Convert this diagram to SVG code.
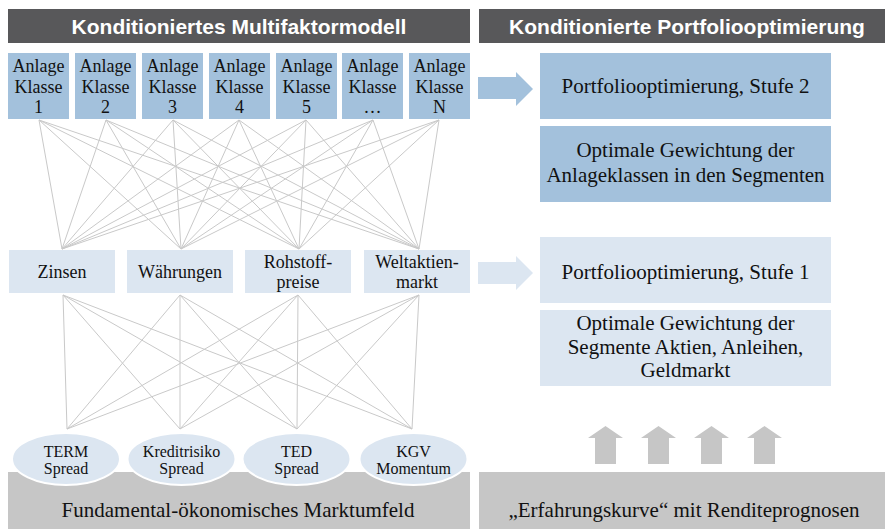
<svg xmlns="http://www.w3.org/2000/svg" width="885" height="529" viewBox="0 0 885 529">
<style>
.hdr{fill:#58585a}
.hdrt{font-family:'Liberation Sans',Arial,sans-serif;font-weight:bold;font-size:21px;fill:#fff;text-anchor:middle}
.dark{fill:#a3c1dc}
.light{fill:#dce6f1}
.gray{fill:#c6c6c6}
.t{font-family:'Liberation Serif','DejaVu Serif',serif;fill:#111;text-anchor:middle}
.t18{font-size:18px}
.t16{font-size:16px}
.t21{font-size:21px}
.conn line{stroke:#c9c9c9;stroke-width:1}
.ell{fill:#dce6f1;stroke:#fff;stroke-width:2}
</style>
<rect width="885" height="529" fill="#fff"/>
<g id="header-left"><rect class="hdr" x="8" y="9" width="462" height="34"/><text class="hdrt" x="239" y="33.5">Konditioniertes Multifaktormodell</text></g>
<g id="header-right"><rect class="hdr" x="479" y="9" width="406" height="34"/><text class="hdrt" x="687" y="33.5">Konditionierte Portfoliooptimierung</text></g>

<g id="base-left"><rect class="gray" x="8" y="472" width="462" height="57"/><text class="t t21" x="238" y="517">Fundamental-ökonomisches Marktumfeld</text></g>
<g id="base-right"><rect class="gray" x="479" y="472" width="406" height="57"/><text class="t t21" x="684" y="517">„Erfahrungskurve“ mit Renditeprognosen</text></g>

<g class="conn" id="connectors">
<g id="upper-lines">
<line x1="39" y1="120" x2="62" y2="249"/><line x1="39" y1="120" x2="181" y2="249"/><line x1="39" y1="120" x2="299" y2="249"/><line x1="39" y1="120" x2="419" y2="249"/>
<line x1="106" y1="120" x2="62" y2="249"/><line x1="106" y1="120" x2="181" y2="249"/><line x1="106" y1="120" x2="299" y2="249"/><line x1="106" y1="120" x2="419" y2="249"/>
<line x1="173" y1="120" x2="62" y2="249"/><line x1="173" y1="120" x2="181" y2="249"/><line x1="173" y1="120" x2="299" y2="249"/><line x1="173" y1="120" x2="419" y2="249"/>
<line x1="239" y1="120" x2="62" y2="249"/><line x1="239" y1="120" x2="181" y2="249"/><line x1="239" y1="120" x2="299" y2="249"/><line x1="239" y1="120" x2="419" y2="249"/>
<line x1="306" y1="120" x2="62" y2="249"/><line x1="306" y1="120" x2="181" y2="249"/><line x1="306" y1="120" x2="299" y2="249"/><line x1="306" y1="120" x2="419" y2="249"/>
<line x1="373" y1="120" x2="62" y2="249"/><line x1="373" y1="120" x2="181" y2="249"/><line x1="373" y1="120" x2="299" y2="249"/><line x1="373" y1="120" x2="419" y2="249"/>
<line x1="439" y1="120" x2="62" y2="249"/><line x1="439" y1="120" x2="181" y2="249"/><line x1="439" y1="120" x2="299" y2="249"/><line x1="439" y1="120" x2="419" y2="249"/>
</g>
<g id="lower-lines">
<line x1="63" y1="295" x2="67" y2="429"/><line x1="63" y1="295" x2="180" y2="429"/><line x1="63" y1="295" x2="297" y2="429"/><line x1="63" y1="295" x2="412" y2="429"/>
<line x1="180" y1="295" x2="67" y2="429"/><line x1="180" y1="295" x2="180" y2="429"/><line x1="180" y1="295" x2="297" y2="429"/><line x1="180" y1="295" x2="412" y2="429"/>
<line x1="298" y1="295" x2="67" y2="429"/><line x1="298" y1="295" x2="180" y2="429"/><line x1="298" y1="295" x2="297" y2="429"/><line x1="298" y1="295" x2="412" y2="429"/>
<line x1="419" y1="295" x2="67" y2="429"/><line x1="419" y1="295" x2="180" y2="429"/><line x1="419" y1="295" x2="297" y2="429"/><line x1="419" y1="295" x2="412" y2="429"/>
</g>
<g id="arrows">
<polygon class="dark" points="478,77 516,77 516,72 533,89 516,106 516,99 478,99"/>
<polygon class="light" points="478,262 516,262 516,256 533,273 516,290 516,284 478,284"/>
<polygon class="gray" points="595,464 595,438 588,438 605.5,426 623,438 616,438 616,464"/>
<polygon class="gray" points="648,464 648,438 641,438 658.5,426 676,438 669,438 669,464"/>
<polygon class="gray" points="701,464 701,438 694,438 711.5,426 729,438 722,438 722,464"/>
<polygon class="gray" points="754,464 754,438 747,438 764.5,426 782,438 775,438 775,464"/>
</g>
</g>

<g id="ak1"><rect class="dark" x="8" y="53" width="61" height="66"/><text class="t t18" x="38.5" y="72">Anlage<tspan x="38.5" dy="20.5">Klasse</tspan><tspan x="38.5" dy="20.5">1</tspan></text></g>
<g id="ak2"><rect class="dark" x="75" y="53" width="61" height="66"/><text class="t t18" x="105.5" y="72">Anlage<tspan x="105.5" dy="20.5">Klasse</tspan><tspan x="105.5" dy="20.5">2</tspan></text></g>
<g id="ak3"><rect class="dark" x="142" y="53" width="61" height="66"/><text class="t t18" x="172.5" y="72">Anlage<tspan x="172.5" dy="20.5">Klasse</tspan><tspan x="172.5" dy="20.5">3</tspan></text></g>
<g id="ak4"><rect class="dark" x="209" y="53" width="61" height="66"/><text class="t t18" x="239.5" y="72">Anlage<tspan x="239.5" dy="20.5">Klasse</tspan><tspan x="239.5" dy="20.5">4</tspan></text></g>
<g id="ak5"><rect class="dark" x="276" y="53" width="61" height="66"/><text class="t t18" x="306.5" y="72">Anlage<tspan x="306.5" dy="20.5">Klasse</tspan><tspan x="306.5" dy="20.5">5</tspan></text></g>
<g id="ak6"><rect class="dark" x="342" y="53" width="61" height="66"/><text class="t t18" x="372.5" y="72">Anlage<tspan x="372.5" dy="20.5">Klasse</tspan><tspan x="372.5" dy="20.5">…</tspan></text></g>
<g id="ak7"><rect class="dark" x="409" y="53" width="61" height="66"/><text class="t t18" x="439.5" y="72">Anlage<tspan x="439.5" dy="20.5">Klasse</tspan><tspan x="439.5" dy="20.5">N</tspan></text></g>

<g id="f-zinsen"><rect class="light" x="9" y="250" width="106" height="43"/><text class="t t18" x="62" y="278">Zinsen</text></g>
<g id="f-waehrungen"><rect class="light" x="127" y="250" width="106" height="43"/><text class="t t18" x="180" y="278">Währungen</text></g>
<g id="f-rohstoff"><rect class="light" x="245" y="250" width="106" height="43"/><text class="t t18" x="298" y="268">Rohstoff-<tspan x="298" dy="20">preise</tspan></text></g>
<g id="f-weltaktien"><rect class="light" x="364" y="250" width="106" height="43"/><text class="t t18" x="417" y="268">Weltaktien-<tspan x="417" dy="20">markt</tspan></text></g>

<g id="e-term"><ellipse class="ell" cx="66" cy="459" rx="54" ry="26"/><text class="t t16" x="66" y="457">TERM<tspan x="66" dy="17">Spread</tspan></text></g>
<g id="e-kredit"><ellipse class="ell" cx="181.5" cy="459" rx="54" ry="26"/><text class="t t16" x="181.5" y="457">Kreditrisiko<tspan x="181.5" dy="17">Spread</tspan></text></g>
<g id="e-ted"><ellipse class="ell" cx="296.5" cy="459" rx="54" ry="26"/><text class="t t16" x="296.5" y="457">TED<tspan x="296.5" dy="17">Spread</tspan></text></g>
<g id="e-kgv"><ellipse class="ell" cx="413.5" cy="459" rx="54" ry="26"/><text class="t t16" x="413.5" y="457">KGV<tspan x="413.5" dy="17">Momentum</tspan></text></g>

<g id="po2"><rect class="dark" x="540" y="53" width="291" height="66"/><text class="t t21" x="685.5" y="93">Portfoliooptimierung, Stufe 2</text></g>
<g id="gew2"><rect class="dark" x="540" y="126" width="291" height="76"/><text class="t t21" x="685.5" y="157">Optimale Gewichtung der<tspan x="685.5" dy="25">Anlageklassen in den Segmenten</tspan></text></g>
<g id="po1"><rect class="light" x="540" y="237" width="291" height="66"/><text class="t t21" x="685.5" y="279">Portfoliooptimierung, Stufe 1</text></g>
<g id="gew1"><rect class="light" x="540" y="310" width="291" height="76"/><text class="t t21" x="685.5" y="330">Optimale Gewichtung der<tspan x="685.5" dy="23.5">Segmente Aktien, Anleihen,</tspan><tspan x="685.5" dy="23.5">Geldmarkt</tspan></text></g>
</svg>
